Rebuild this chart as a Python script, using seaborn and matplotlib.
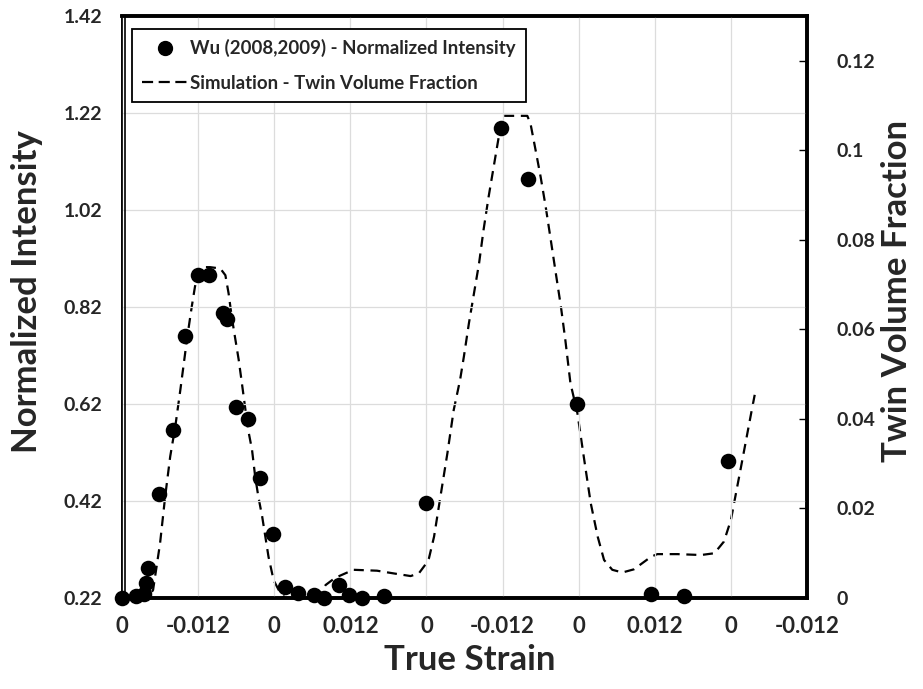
import matplotlib
matplotlib.use("Agg")
import matplotlib.pyplot as plt
import matplotlib.transforms as mtransforms
from matplotlib.lines import Line2D
import seaborn as sns

# x axis = accumulated strain along the cyclic path, one tick every 0.012
tick_pos = [0.0, 0.012, 0.024, 0.036, 0.048, 0.060, 0.072, 0.084, 0.096, 0.108]
tick_labels = ["0", "-0.012", "0", "0.012", "0", "-0.012", "0", "0.012", "0", "-0.012"]

left_ticks = [0.22, 0.42, 0.62, 0.82, 1.02, 1.22, 1.42]
right_ticks = [0.0, 0.02, 0.04, 0.06, 0.08, 0.10, 0.12]
right_labels = ["0", "0.02", "0.04", "0.06", "0.08", "0.1", "0.12"]

# Wu (2008, 2009) measured normalized intensity
exp_path = [0.0000, 0.0022, 0.0035, 0.0038, 0.0041, 0.0058, 0.0081, 0.0100,
            0.0120, 0.0137, 0.0159, 0.0165, 0.0179, 0.0199, 0.0217, 0.0238,
            0.0257, 0.0278, 0.0302, 0.0319, 0.0342, 0.0358, 0.0378, 0.0413,
            0.0480, 0.0598, 0.0640, 0.0718, 0.0834, 0.0886, 0.0956]
exp_intensity = [0.220, 0.225, 0.228, 0.250, 0.282, 0.434, 0.566, 0.760,
                 0.886, 0.886, 0.808, 0.795, 0.614, 0.589, 0.467, 0.352,
                 0.242, 0.230, 0.226, 0.220, 0.247, 0.226, 0.220, 0.224,
                 0.415, 1.190, 1.084, 0.621, 0.228, 0.224, 0.502]

# simulated twin volume fraction
sim_path = [0.0000, 0.0041, 0.0049, 0.0060, 0.0068, 0.0076, 0.0084, 0.0092,
            0.0103, 0.0110, 0.0115, 0.0119, 0.0126, 0.0139, 0.0155, 0.0163,
            0.0168, 0.0173, 0.0178, 0.0184, 0.0189, 0.0194, 0.0199, 0.0205,
            0.0210, 0.0215, 0.0221, 0.0226, 0.0231, 0.0239, 0.0247, 0.0257,
            0.0309, 0.0321, 0.0336, 0.0352, 0.0365, 0.0402, 0.0428, 0.0455,
            0.0468, 0.0478, 0.0484, 0.0492, 0.0502, 0.0513, 0.0523, 0.0533,
            0.0539, 0.0547, 0.0555, 0.0563, 0.0570, 0.0578, 0.0586, 0.0594,
            0.0602, 0.0639, 0.0644, 0.0652, 0.0660, 0.0668, 0.0676, 0.0684,
            0.0692, 0.0699, 0.0707, 0.0718, 0.0728, 0.0739, 0.0750, 0.0760,
            0.0773, 0.0789, 0.0807, 0.0834, 0.0844, 0.0876, 0.0913, 0.0934,
            0.0949, 0.0960, 0.0968, 0.0976, 0.0984, 0.0992, 0.0998]
sim_twin_frac = [0.0000, 0.0000, 0.0018, 0.0122, 0.0226, 0.0316, 0.0383, 0.0465,
                 0.0584, 0.0651, 0.0695, 0.0721, 0.0739, 0.0739, 0.0736, 0.0721,
                 0.0681, 0.0628, 0.0584, 0.0532, 0.0480, 0.0427, 0.0375, 0.0331,
                 0.0271, 0.0226, 0.0182, 0.0137, 0.0092, 0.0040, 0.0018, 0.0000,
                 0.0000, 0.0029, 0.0045, 0.0055, 0.0063, 0.0061, 0.0055, 0.0049,
                 0.0055, 0.0074, 0.0089, 0.0137, 0.0226, 0.0323, 0.0420, 0.0487,
                 0.0539, 0.0614, 0.0681, 0.0748, 0.0822, 0.0896, 0.0963, 0.1030,
                 0.1077, 0.1077, 0.1060, 0.1001, 0.0941, 0.0874, 0.0800, 0.0725,
                 0.0651, 0.0576, 0.0480, 0.0413, 0.0316, 0.0212, 0.0137, 0.0085,
                 0.0063, 0.0057, 0.0064, 0.0092, 0.0098, 0.0098, 0.0096, 0.0100,
                 0.0126, 0.0174, 0.0234, 0.0293, 0.0353, 0.0413, 0.0457]

sns.set_theme(style="white")
plt.rcParams['font.family'] = ['Lato', 'DejaVu Sans']
plt.rcParams['font.weight'] = 'bold'

fig = plt.figure(figsize=(9.23, 6.89), dpi=100)
ax = fig.add_axes([122 / 923, 91 / 689, 685 / 923, 582 / 689])
ax2 = ax.twinx()

dash = (0, (4.5, 3))
sns.lineplot(x=sim_path, y=sim_twin_frac, ax=ax2, color='black', linewidth=1.6,
             linestyle=dash, sort=False, estimator=None)
sns.scatterplot(x=exp_path, y=exp_intensity, ax=ax, color='black', s=125,
                linewidth=0, clip_on=False, zorder=5)

# dots on top of the simulation line
ax.set_zorder(ax2.get_zorder() + 1)
ax.patch.set_visible(False)

ax.set_xlim(0, 0.108)
ax.set_ylim(0.22, 1.42)
ax2.set_ylim(0, 0.13)

ax.set_xticks(tick_pos)
ax.set_xticklabels(tick_labels)
ax.set_yticks(left_ticks)
ax.set_yticklabels([f"{v:.2f}" for v in left_ticks])
ax2.set_yticks(right_ticks)
ax2.set_yticklabels(right_labels)

ax.grid(True, color='#dcdcdc', linewidth=0.9)
ax2.grid(False)

ax.tick_params(axis='x', length=0, pad=13, labelsize=16)
ax.tick_params(axis='y', length=0, pad=14, labelsize=14)
ax2.tick_params(axis='y', direction='in', length=6, width=1, color='black',
                pad=21, labelsize=14)

for a in (ax, ax2):
    for side in ['top', 'bottom', 'right']:
        a.spines[side].set_color('black')
        a.spines[side].set_linewidth(2.6)
    a.spines['left'].set_color('black')
    a.spines['left'].set_linewidth(1.2)

# second thin line next to the left axis (double border look)
off = mtransforms.ScaledTranslation(3 / 100, 0, fig.dpi_scale_trans)
ax.plot([0, 0], [0, 1], transform=ax.transAxes + off, color='black',
        linewidth=1.2, clip_on=False, zorder=6)

ax.set_xlabel("True Strain", fontsize=25, fontweight='bold')
ax.xaxis.set_label_coords(0.507, -0.107)
ax.xaxis.label.set_va('center')
ax.set_ylabel("Normalized Intensity", fontsize=25, fontweight='bold')
ax.yaxis.set_label_coords(-0.139, 0.527)
ax.yaxis.label.set_va('center')
ax2.set_ylabel("Twin Volume Fraction", fontsize=25, fontweight='bold', rotation=90)
ax2.yaxis.set_label_coords(1.132, 0.527)
ax2.yaxis.label.set_va('center')

handles = [
    Line2D([], [], marker='o', color='black', linestyle='none', markersize=10),
    Line2D([], [], color='black', linewidth=1.6, linestyle=(0, (5, 2.5))),
]
leg = ax.legend(handles, ["Wu (2008,2009) - Normalized Intensity",
                          "Simulation - Twin Volume Fraction"],
                loc='upper left', bbox_to_anchor=(10 / 685, 1 - 13 / 582),
                borderaxespad=0, fontsize=13.4, frameon=True, fancybox=False,
                edgecolor='black', framealpha=1, handlelength=2.4,
                handletextpad=0.16, labelspacing=0.93, borderpad=0.55)
leg.get_frame().set_linewidth(1.3)

fig.savefig("out.png", dpi=100)
